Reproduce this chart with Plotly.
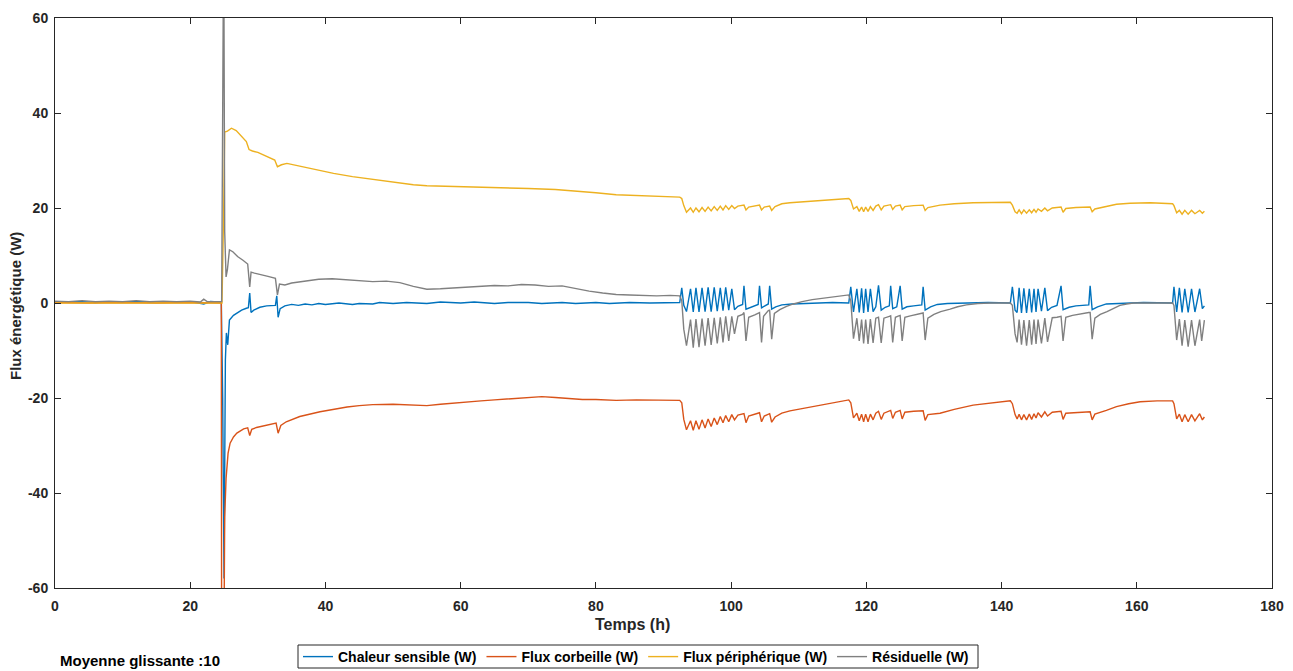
import plotly.graph_objects as go

# ---------------- data ----------------
# Chaleur sensible (W)
t_sens = [0, 2, 4, 6, 8, 10, 12, 14, 16, 18, 20, 22, 23, 24.6,
          24.8, 25.0, 25.2, 25.35, 25.55, 25.8, 26.4, 26.9, 27.6, 28.3, 28.6, 28.8, 29.0, 29.4,
          30.3, 31.3, 32.6, 32.8, 33.0, 33.3, 34, 35, 36, 37, 38, 39, 40, 42, 44, 45, 47, 48,
          50, 52, 55, 57, 60, 62, 65, 67, 70, 72, 75, 77, 80, 82, 85, 88, 90, 92.4,
          92.7, 93.0, 93.4, 94.0, 94.4, 94.8, 95.25, 95.7, 96.15, 96.6, 97.05, 97.5, 97.95,
          98.4, 98.8, 99.2, 99.65, 100.1, 100.5, 101.0, 101.7, 101.9, 102.2, 103.0, 104.0,
          104.2, 104.5, 105.0, 105.5, 105.7, 106.0, 106.6, 107.5, 109, 111, 113, 115, 117.4,
          117.7, 118.1, 118.6, 118.95, 119.3, 119.6, 119.9, 120.25, 120.6, 121.0, 121.4,
          121.8, 122.2, 122.8, 123.4, 123.6, 123.9, 124.5, 125.0, 125.3, 126, 127, 128.2,
          128.4, 128.7, 129.5, 130.5, 132, 135, 138, 141.3,
          141.6, 142.0, 142.3, 142.6, 142.95, 143.3, 143.7, 144.1, 144.45, 144.8, 145.1,
          145.4, 145.9, 146.4, 146.8, 147.4, 148.2, 148.8, 149.1, 150, 151, 152.9, 153.1,
          153.4, 154.2, 155.5, 158, 161, 165.3,
          165.5, 165.9, 166.3, 166.7, 167.1, 167.6, 168.1, 168.6, 169.3, 169.7, 170.0]
v_sens = [0.3, 0.2, 0.3, 0.1, 0.3, 0.2, 0.3, 0.2, 0.3, 0.2, 0.3, -0.2, 0.3, 0.2,
          -20, -58, -12, -6.3, -8.8, -3.6, -2.6, -2.1, -1.5, -1.1, -1.0, 2.1, -2.0, -1.5,
          -0.9, -0.6, -0.5, 1.5, -3.0, -1.2, -0.6, -0.3, -0.5, -0.2, -0.4, -0.1, -0.3, 0.0, -0.3, -0.1, -0.2, 0.1,
          -0.1, 0.1, -0.1, 0.2, 0.0, 0.2, -0.1, 0.1, 0.1, -0.1, 0.1, -0.1, 0.1, -0.1, 0.1, 0.0, 0.1, 0.1,
          3.2, -0.5, -1.8, 3.0, -1.9, 3.2, -1.9, 3.2, -1.8, 3.3, -1.8, 3.3, -1.7,
          3.2, -1.6, 3.3, -1.5, 3.0, -1.4, -0.7, -0.3, 3.6, -1.3, -0.8, -0.3,
          3.6, -1.0, -0.6, -0.2, 3.6, -1.3, -0.8, -0.4, -0.2, -0.1, 0.0, 0.1, 0.0,
          3.4, -1.9, 3.0, -2.0, 3.1, -2.1, 3.0, -1.9, 3.0, -1.8, -0.8,
          3.7, -1.5, -0.9, -0.6, 3.6, -1.2, -0.8, 3.6, -1.3, -0.8, -0.6, -0.4,
          3.4, -1.5, -0.8, -0.3, -0.1, 0.0, 0.1, 0.0,
          3.4, -1.5, -2.0, 3.2, -2.1, 3.1, -2.1, 3.0, -2.0, 3.0, -1.9,
          3.0, -1.7, 3.2, -1.6, -0.9, -0.5, 3.6, -1.4, -0.9, -0.6, -0.4, 3.6,
          -1.4, -0.8, -0.2, 0.0, 0.1, 0.0,
          3.4, -1.9, 3.2, -2.0, 3.0, -2.0, 3.0, -1.9, 3.0, -1.2, -0.6]

# Flux corbeille (W)
t_corb = [0, 5, 10, 15, 20, 24.6, 24.65, 24.95, 25.1, 25.3, 25.6, 25.9, 26.4, 26.9, 27.9,
          28.5, 28.8, 29.1, 29.8, 31, 32.7, 33.0, 33.4, 34.2, 36.2, 39.2, 41, 43.2, 45, 47,
          50, 53, 55, 57, 60, 63, 65, 67, 70, 72, 74, 76, 78, 80, 83, 86, 89, 92.4,
          92.7, 93.0, 93.4, 94.0, 94.4, 94.8, 95.25, 95.7, 96.15, 96.6, 97.05, 97.5, 97.95,
          98.4, 98.8, 99.2, 99.65, 100.1, 100.5, 101.0, 101.9, 102.2, 102.6, 104.2, 104.5,
          104.9, 105.7, 106.0, 106.5, 107.5, 108.7, 110.5, 112.5, 114.5, 116, 117.4,
          117.7, 118.1, 118.6, 118.95, 119.3, 119.6, 119.9, 120.25, 120.6, 121.0, 121.4,
          121.8, 122.2, 122.6, 123.6, 123.9, 124.3, 125.0, 125.3, 125.7, 127, 128.4, 128.7,
          129.1, 130.9, 133, 135.8, 138.5, 141.3,
          141.6, 142.0, 142.3, 142.6, 142.95, 143.3, 143.7, 144.1, 144.45, 144.8, 145.1,
          145.4, 145.9, 146.4, 146.8, 147.5, 148.8, 149.1, 149.5, 151, 153.1, 153.4, 153.8,
          155.5, 157, 158.8, 160.5, 163, 165.3,
          165.5, 165.9, 166.3, 166.7, 167.1, 167.6, 168.1, 168.6, 169.3, 169.7, 170.0]
v_corb = [0.1, 0.0, 0.1, 0.0, 0.1, 0.0, -80, -80, -45, -37, -31.6, -29.5, -28.2, -27.4, -26.5,
          -26.3, -27.9, -26.6, -26.2, -25.8, -25.3, -27.4, -25.8, -25.0, -23.9, -22.9, -22.4, -21.9, -21.6, -21.4,
          -21.3, -21.5, -21.6, -21.3, -20.9, -20.6, -20.4, -20.2, -20.0, -19.7, -19.9, -20.1, -20.3, -20.3, -20.5, -20.4, -20.5, -20.5,
          -21.0, -24.5, -26.7, -24.8, -26.8, -24.8, -26.6, -24.6, -26.3, -24.4, -26.0, -24.2, -25.6,
          -23.9, -25.2, -23.7, -25.0, -23.5, -24.6, -23.6, -23.3, -25.2, -23.8, -23.1, -25.0,
          -23.8, -23.3, -25.1, -24.0, -23.2, -22.7, -22.2, -21.7, -21.1, -20.7, -20.4,
          -21.0, -24.2, -23.2, -24.8, -23.4, -25.0, -23.4, -25.0, -23.4, -24.6, -23.2,
          -22.8, -24.5, -23.2, -22.6, -24.3, -23.0, -22.6, -24.4, -23.0, -22.8, -22.7, -24.7,
          -23.5, -23.2, -22.4, -21.5, -21.0, -20.6,
          -21.2, -23.5, -24.4, -23.4, -24.6, -23.5, -24.6, -23.4, -24.5, -23.3, -24.2,
          -23.1, -24.0, -22.9, -23.8, -23.0, -22.8, -24.5, -23.2, -23.1, -22.9, -24.6, -23.4,
          -22.6, -21.8, -21.2, -20.8, -20.6, -20.6,
          -21.2, -24.4, -23.4, -25.0, -23.5, -25.0, -23.5, -24.8, -23.3, -24.6, -24.0]

# Flux périphérique (W)
t_peri = [0, 10, 20, 24.7, 24.95, 25.1, 25.5, 26.1, 26.8, 27.5, 28.3, 28.7, 29.2, 30, 31,
          32.5, 32.9, 33.5, 34.3, 36, 38, 41.2, 44, 47, 49, 51, 53, 55, 58, 62, 66, 70, 74,
          77, 80, 83, 86, 89, 92.4,
          92.7, 93.0, 93.4, 94.0, 94.4, 94.8, 95.25, 95.7, 96.15, 96.6, 97.05, 97.5, 97.95,
          98.4, 98.8, 99.2, 99.65, 100.1, 100.5, 101.0, 101.9, 102.2, 102.6, 104.2, 104.5,
          104.9, 105.7, 106.0, 106.5, 107.5, 108.7, 110.5, 113, 115, 117.4,
          117.7, 118.1, 118.6, 118.95, 119.3, 119.6, 119.9, 120.25, 120.6, 121.0, 121.4,
          121.8, 122.2, 122.6, 123.6, 123.9, 124.3, 125.0, 125.3, 125.7, 127, 128.4, 128.7,
          129.1, 130.9, 133, 135.8, 138.5, 141.3,
          141.6, 142.0, 142.3, 142.6, 142.95, 143.3, 143.7, 144.1, 144.45, 144.8, 145.1,
          145.4, 145.9, 146.4, 146.8, 147.5, 148.8, 149.1, 149.5, 151, 153.1, 153.4, 153.8,
          155.5, 157, 159, 162, 165.3,
          165.5, 165.9, 166.3, 166.7, 167.1, 167.6, 168.1, 168.6, 169.3, 169.7, 170.0]
v_peri = [0.0, 0.0, 0.0, 0.0, 20, 36.0, 36.2, 36.8, 36.3, 35.2, 34.0, 32.3, 32.0, 31.7, 31.0,
          30.1, 28.7, 29.1, 29.4, 28.9, 28.2, 27.3, 26.6, 26.0, 25.7, 25.2, 24.9, 24.7, 24.6, 24.4, 24.3, 24.1, 23.9,
          23.6, 23.2, 22.8, 22.6, 22.5, 22.3,
          22.0, 20.5, 19.1, 20.0, 19.1, 20.0, 19.2, 20.1, 19.3, 20.2, 19.4, 20.3, 19.5,
          20.4, 19.6, 20.5, 19.7, 20.5, 19.9, 20.4, 20.6, 19.6, 20.2, 20.6, 19.6,
          20.2, 20.4, 19.5, 20.3, 20.9, 21.1, 21.3, 21.6, 21.8, 22.0,
          21.6, 19.8, 20.3, 19.3, 20.2, 19.2, 20.2, 19.3, 20.3, 19.5, 20.4,
          20.7, 19.6, 20.4, 20.7, 19.7, 20.4, 20.6, 19.6, 20.3, 20.5, 20.6, 19.5,
          20.1, 20.6, 20.9, 21.1, 21.2, 21.2,
          20.6, 19.2, 18.9, 19.6, 18.8, 19.6, 18.9, 19.6, 19.0, 19.7, 19.1,
          19.8, 19.3, 20.0, 19.4, 20.0, 20.2, 19.1, 19.9, 20.1, 20.2, 19.2, 19.8,
          20.4, 20.8, 21.0, 21.1, 20.9,
          20.5, 19.0, 19.5, 18.7, 19.5, 18.7, 19.5, 18.8, 19.5, 18.9, 19.3]

# Résiduelle (W)
t_resi = [0, 2, 4, 6, 8, 10, 12, 14, 16, 18, 20, 21.5, 22, 22.5, 24.65,
          24.8, 24.95, 25.1, 25.3, 25.5, 25.8, 26.3, 27, 27.8, 28.5, 28.8, 29.0, 29.5,
          30.5, 31.5, 32.6, 32.9, 33.2, 34, 35, 37, 39, 41, 43, 45, 47, 49, 51, 53, 55,
          57, 59, 61, 63, 65, 67, 69, 71, 73, 75, 77, 79, 81, 83, 85, 87, 89, 91, 92.4,
          92.7, 93.0, 93.4, 94.0, 94.4, 94.8, 95.25, 95.7, 96.15, 96.6, 97.05, 97.5, 97.95,
          98.4, 98.8, 99.2, 99.65, 100.1, 100.5, 101.0, 101.7, 101.9, 102.2, 102.6, 103.5,
          104.0, 104.2, 104.5, 104.8, 105.5, 105.7, 106.0, 106.4, 107.2, 108.2, 109.2,
          110.5, 112, 113.5, 115, 117.4,
          117.7, 118.1, 118.6, 118.95, 119.3, 119.6, 119.9, 120.25, 120.6, 121.0, 121.4,
          121.8, 122.2, 122.6, 123.4, 123.6, 123.9, 124.3, 124.8, 125.0, 125.3, 125.7,
          126.5, 127.5, 128.2, 128.4, 128.7, 129.1, 130, 131, 132.4, 133.5, 134.8, 136.5,
          138.3, 141.3,
          141.6, 142.0, 142.3, 142.6, 142.95, 143.3, 143.7, 144.1, 144.45, 144.8, 145.1,
          145.4, 145.9, 146.4, 146.8, 147.5, 148.2, 148.8, 149.1, 149.5, 150.5, 151.5,
          152.9, 153.1, 153.4, 153.8, 154.6, 155.6, 156.5, 157.5, 158.5, 159.5, 165.3,
          165.5, 165.9, 166.3, 166.7, 167.1, 167.6, 168.1, 168.6, 169.3, 169.6, 170.0]
v_resi = [0.4, 0.3, 0.5, 0.3, 0.4, 0.3, 0.5, 0.3, 0.4, 0.3, 0.4, 0.2, 0.8, 0.3, 0.3,
          80, 80, 15, 5.5, 7.0, 11.2, 10.8, 9.8, 9.0, 8.2, 3.4, 6.5, 6.3,
          6.0, 5.6, 5.2, 1.7, 4.0, 3.8, 4.2, 4.6, 5.0, 5.1, 4.9, 4.8, 4.5, 4.6, 4.3, 3.5, 2.9,
          3.0, 3.2, 3.3, 3.6, 3.7, 3.6, 3.9, 3.8, 3.5, 3.6, 3.0, 2.5, 2.1, 1.8, 1.7, 1.6, 1.5, 1.6, 1.5,
          0.5, -5.5, -9.0, -3.5, -9.4, -3.4, -9.3, -3.3, -9.0, -3.2, -8.8, -3.1, -8.5,
          -3.0, -8.3, -2.8, -8.0, -2.8, -6.5, -2.8, -2.4, -2.0, -8.0, -3.0, -2.5,
          -2.2, -2.0, -8.3, -2.8, -1.6, -1.5, -7.6, -2.2, -1.4, -0.7, -0.2,
          0.3, 0.7, 1.0, 1.3, 1.7,
          0.5, -7.5, -3.2, -8.0, -3.5, -8.5, -3.5, -8.6, -3.4, -8.4, -3.2,
          -3.0, -8.4, -3.2, -2.8, -2.7, -8.3, -3.0, -2.7, -2.6, -8.0, -3.0,
          -2.7, -2.4, -2.2, -2.1, -7.8, -3.2, -2.4, -1.8, -1.3, -0.8, -0.4, -0.1,
          0.0, 0.0,
          -0.5, -6.5, -8.3, -3.5, -8.8, -3.6, -9.0, -3.6, -8.8, -3.5, -8.6,
          -3.5, -8.5, -3.2, -8.2, -3.1, -3.0, -2.8, -8.0, -3.0, -2.6, -2.3,
          -2.0, -2.0, -7.6, -3.2, -2.4, -1.8, -1.1, -0.5, -0.2, 0.0, 0.0,
          -0.5, -7.8, -3.4, -9.0, -3.6, -9.2, -3.6, -9.0, -3.5, -8.0, -3.6]

series_names = ["Chaleur sensible (W)", "Flux corbeille (W)",
                "Flux périphérique (W)", "Résiduelle (W)"]
series_colors = ["#0072BD", "#D95319", "#EDB120", "#808080"]

x_ticks = [0, 20, 40, 60, 80, 100, 120, 140, 160, 180]
x_tick_labels = ["0", "20", "40", "60", "80", "100", "120", "140", "160", "180"]
y_ticks = [-60, -40, -20, 0, 20, 40, 60]
y_tick_labels = ["-60", "-40", "-20", "0", "20", "40", "60"]

FONT = "Liberation Sans, Arial, Helvetica, sans-serif"
INK = "#262626"

# The page body adds an 8 px offset; the figure is sized so the plot area lands
# at x 55..1272, y 18..588 of the 1293x671 screenshot.
W, H = 1285, 663
ML, MT, MR, MB = 47, 10, 21, 83
PW, PH = W - ML - MR, H - MT - MB


def px_x(sx):  # screenshot x -> paper x
    return (sx - 8 - ML) / PW


def px_y(sy):  # screenshot y -> paper y
    return (H - MB - (sy - 8)) / PH


# ---------------- figure ----------------
fig = go.Figure()
for (tt, vv), name, col in zip([(t_sens, v_sens), (t_corb, v_corb),
                                (t_peri, v_peri), (t_resi, v_resi)],
                               series_names, series_colors):
    fig.add_trace(go.Scatter(x=tt, y=vv, mode="lines", name=name,
                             line=dict(color=col, width=1.4)))

axis_common = dict(showgrid=False, zeroline=False, showline=True, linecolor=INK,
                   linewidth=1, mirror="ticks", ticks="inside", ticklen=6,
                   tickcolor=INK, tickwidth=1, automargin=False,
                   tickfont=dict(family=FONT, size=14, color=INK, weight="bold"))

fig.update_xaxes(range=[0, 180], tickvals=x_ticks, ticktext=x_tick_labels,
                 ticklabelstandoff=5, **axis_common)
fig.update_yaxes(range=[-60, 60], tickvals=y_ticks, ticktext=y_tick_labels,
                 ticklabelstandoff=3, **axis_common)

fig.update_layout(
    width=W, height=H,
    margin=dict(l=ML, r=MR, t=MT, b=MB, autoexpand=False),
    paper_bgcolor="white", plot_bgcolor="white",
    showlegend=True,
    legend=dict(orientation="h", x=px_x(298), xanchor="left",
                y=px_y(657), yanchor="middle",
                borderwidth=0, bgcolor="rgba(0,0,0,0)",
                itemwidth=30, tracegroupgap=0,
                font=dict(family=FONT, size=14, color="#000000", weight="bold")),
    shapes=[
        # legend frame, matching the compact box of the reference
        dict(type="rect", xref="paper", yref="paper",
             x0=px_x(298), x1=px_x(978), y0=px_y(668), y1=px_y(645),
             line=dict(color=INK, width=1), fillcolor="rgba(0,0,0,0)"),
    ],
    annotations=[
        dict(text="Temps (h)", xref="paper", yref="paper",
             x=px_x(632), y=px_y(624), xanchor="center", yanchor="middle",
             showarrow=False, font=dict(family=FONT, size=16, color=INK, weight="bold")),
        dict(text="Flux énergétique (W)", xref="paper", yref="paper", textangle=-90,
             x=px_x(15), y=px_y(306), xanchor="center", yanchor="middle",
             showarrow=False, font=dict(family=FONT, size=15, color=INK, weight="bold")),
        dict(text="Moyenne glissante :10", xref="paper", yref="paper",
             x=px_x(58), y=px_y(660), xanchor="left", yanchor="middle",
             showarrow=False, font=dict(family=FONT, size=15, color="#000000", weight="bold")),
    ],
)

fig.write_html("out.html")
